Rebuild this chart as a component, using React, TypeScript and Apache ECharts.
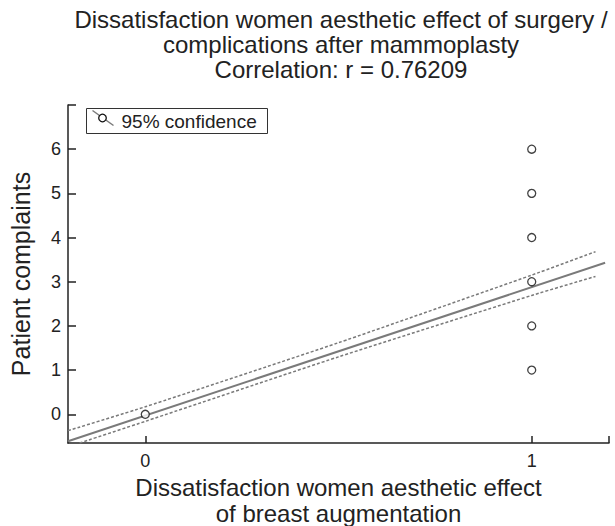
import React, { useEffect, useRef } from "react";
import * as echarts from "echarts";

const titleLines = [
  "Dissatisfaction women aesthetic effect of surgery /",
  "complications after mammoplasty",
  "Correlation: r = 0.76209",
];
const xAxisTitle = ["Dissatisfaction women aesthetic effect", "of breast augmentation"];
const yAxisTitle = "Patient complaints";
const legendLabel = "95% confidence";

const xTicks = [0, 1];
const yTicks = [0, 1, 2, 3, 4, 5, 6];
const xRange = [-0.2, 1.2];
const yRange = [-0.65, 7];

const pointsX = [0, 1, 1, 1, 1, 1, 1];
const pointsY = [0, 1, 2, 3, 4, 5, 6];

const fitX = [-0.2, 1.19];
const fitY = [-0.61, 3.43];

const upperX = [-0.2, 0, 0.5, 1, 1.165];
const upperY = [-0.37, 0.17, 1.62, 3.15, 3.68];
const lowerX = [-0.17, 0, 0.5, 1, 1.165];
const lowerY = [-0.65, -0.16, 1.3, 2.69, 3.12];

const FONT = "Liberation Sans, Arial, Helvetica, sans-serif";
const AXIS_COLOR = "#222";
const LINE_COLOR = "#7a7a7a";

const zip = (xs: number[], ys: number[]) => xs.map((x, i) => [x, ys[i]]);

export default function App() {
  const ref = useRef<HTMLDivElement>(null);

  useEffect(() => {
    document.body.style.margin = "0";
    if (!ref.current) return;
    const chart = echarts.init(ref.current, undefined, { renderer: "svg" });
    chart.setOption({
      animation: false,
      backgroundColor: "#fff",
      textStyle: { fontFamily: FONT },
      title: {
        text: titleLines.join("\n"),
        left: 336,
        top: 2,
        textAlign: "center",
        textStyle: {
          fontFamily: FONT,
          fontSize: 24,
          fontWeight: "normal",
          color: "#222",
          lineHeight: 25,
        },
      },
      grid: {
        left: 68,
        right: 6,
        top: 105,
        bottom: 83,
        containLabel: false,
        outerBoundsMode: "none",
      },
      xAxis: {
        type: "value",
        min: xRange[0],
        max: xRange[1],
        name: xAxisTitle.join("\n"),
        nameLocation: "middle",
        nameGap: 29,
        nameTextStyle: {
          fontFamily: FONT,
          fontSize: 24,
          color: "#222",
          lineHeight: 26,
          verticalAlign: "top",
        },
        splitLine: { show: false },
        axisLine: { show: true, onZero: false, lineStyle: { color: AXIS_COLOR, width: 1.5 } },
        axisTick: {
          show: true,
          inside: true,
          length: 7,
          customValues: [...xTicks, xRange[1]],
          lineStyle: { color: AXIS_COLOR, width: 1.5 },
        },
        axisLabel: {
          customValues: xTicks,
          fontFamily: FONT,
          fontSize: 18,
          color: "#222",
          margin: 9,
        },
      },
      yAxis: {
        type: "value",
        min: yRange[0],
        max: yRange[1],
        name: yAxisTitle,
        nameLocation: "middle",
        nameGap: 35,
        nameRotate: 90,
        nameTextStyle: { fontFamily: FONT, fontSize: 25, color: "#222" },
        splitLine: { show: false },
        axisLine: { show: true, onZero: false, lineStyle: { color: AXIS_COLOR, width: 1.5 } },
        axisTick: {
          show: true,
          inside: true,
          length: 8,
          customValues: [...yTicks, yRange[1]],
          lineStyle: { color: AXIS_COLOR, width: 1.5 },
        },
        axisLabel: {
          customValues: yTicks,
          fontFamily: FONT,
          fontSize: 18,
          color: "#222",
          margin: 7,
        },
      },
      graphic: [
        {
          type: "group",
          left: 86,
          top: 108,
          children: [
            {
              type: "rect",
              shape: { x: 0, y: 0, width: 181, height: 25 },
              style: { fill: "#fff", stroke: "#333", lineWidth: 1 },
            },
            {
              type: "line",
              shape: { x1: 6, y1: 2, x2: 27, y2: 17 },
              style: { stroke: LINE_COLOR, lineWidth: 1.5 },
            },
            {
              type: "circle",
              shape: { cx: 16, cy: 9.5, r: 3.8 },
              style: { fill: "#fff", stroke: "#111", lineWidth: 1.3 },
            },
            {
              type: "text",
              x: 35,
              y: 13,
              style: {
                text: legendLabel,
                font: `19px ${FONT}`,
                fill: "#222",
                verticalAlign: "middle",
              },
            },
          ],
        },
      ],
      series: [
        {
          type: "line",
          name: "upper",
          data: zip(upperX, upperY),
          showSymbol: false,
          symbol: "none",
          smooth: 0.2,
          lineStyle: { color: LINE_COLOR, width: 1.5, type: [3, 2] },
          z: 2,
        },
        {
          type: "line",
          name: "lower",
          data: zip(lowerX, lowerY),
          showSymbol: false,
          symbol: "none",
          smooth: 0.2,
          lineStyle: { color: LINE_COLOR, width: 1.5, type: [3, 2] },
          z: 2,
        },
        {
          type: "line",
          name: "fit",
          data: zip(fitX, fitY),
          showSymbol: false,
          symbol: "none",
          lineStyle: { color: LINE_COLOR, width: 2 },
          z: 3,
        },
        {
          type: "scatter",
          name: legendLabel,
          data: zip(pointsX, pointsY),
          symbol: "circle",
          symbolSize: 8,
          itemStyle: { color: "#fff", borderColor: "#111", borderWidth: 1.3 },
          z: 4,
        },
      ],
    });
    return () => chart.dispose();
  }, []);

  return <div ref={ref} style={{ width: 615, height: 526 }} />;
}
